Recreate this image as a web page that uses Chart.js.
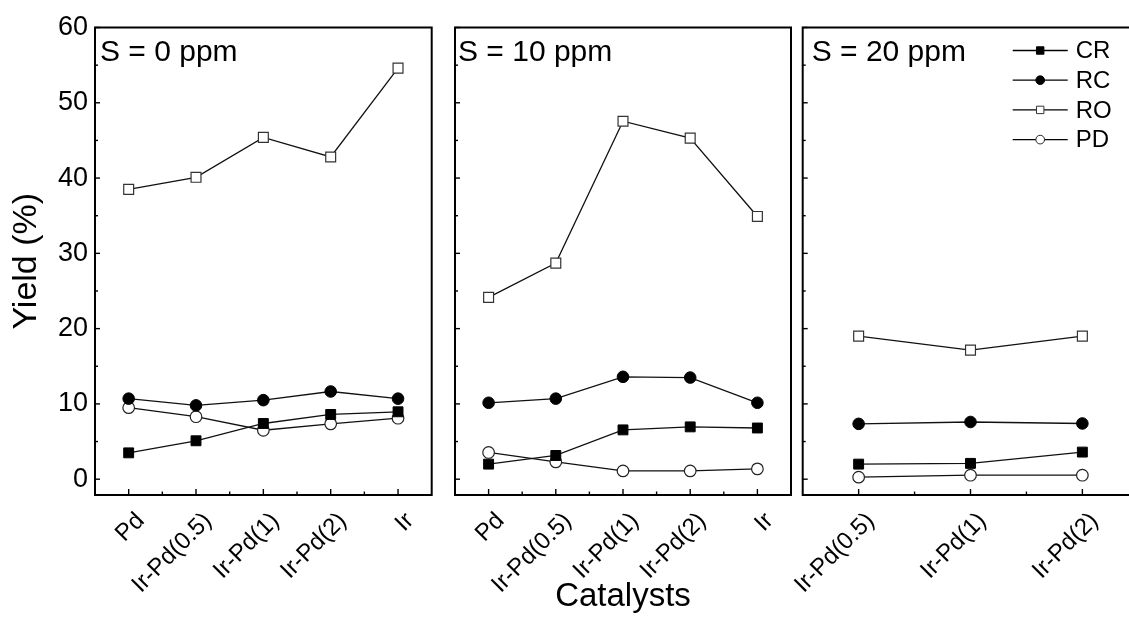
<!DOCTYPE html>
<html>
<head>
<meta charset="utf-8">
<script src="https://cdn.jsdelivr.net/npm/chart.js@4.4.1/dist/chart.umd.min.js"></script>
<style>
  html, body { margin: 0; padding: 0; background: #fff; overflow: hidden; width: 1129px; height: 629px; }
  canvas { position: absolute; top: 0; }
</style>
</head>
<body>
<canvas id="p0" width="445" height="629" style="left:0px"></canvas>
<canvas id="p10" width="355" height="629" style="left:445px"></canvas>
<canvas id="p20" width="365" height="629" style="left:790px"></canvas>
<script>
// Yield (%) of products over catalysts, at three S levels
const seriesNames = ['CR', 'RC', 'RO', 'PD'];
const catalysts = ['Pd', 'Ir-Pd(0.5)', 'Ir-Pd(1)', 'Ir-Pd(2)', 'Ir'];
const catalysts20 = ['Ir-Pd(0.5)', 'Ir-Pd(1)', 'Ir-Pd(2)'];
const yTicks = [0, 10, 20, 30, 40, 50, 60];

// S = 0 ppm
const cr0 = [3.5, 5.1, 7.4, 8.6, 8.95];
const rc0 = [10.7, 9.8, 10.5, 11.65, 10.7];
const ro0 = [38.5, 40.1, 45.4, 42.8, 54.6];
const pd0 = [9.5, 8.3, 6.5, 7.35, 8.1];

// S = 10 ppm
const cr10 = [2.0, 3.15, 6.55, 6.95, 6.8];
const rc10 = [10.15, 10.7, 13.6, 13.5, 10.15];
const ro10 = [24.15, 28.7, 47.55, 45.3, 34.9];
const pd10 = [3.55, 2.3, 1.1, 1.1, 1.37];

// S = 20 ppm
const cr20 = [2.0, 2.1, 3.6];
const rc20 = [7.35, 7.6, 7.4];
const ro20 = [19.0, 17.15, 19.0];
const pd20 = [0.27, 0.53, 0.53];

const FONT = '"Liberation Sans", Arial, sans-serif';

const markers = {
  CR: { style: 'rect', r: 7, fill: '#000', stroke: '#000', bw: 1 },
  RC: { style: 'circle', r: 5.8, fill: '#000', stroke: '#000', bw: 1 },
  RO: { style: 'rect', r: 7, fill: '#fff', stroke: '#333', bw: 1.2 },
  PD: { style: 'circle', r: 5.8, fill: '#fff', stroke: '#222', bw: 1.2 }
};

function ds(label, data) {
  const m = markers[label];
  return {
    label: label,
    data: data,
    borderColor: '#111',
    borderWidth: 1.3,
    tension: 0,
    fill: false,
    pointStyle: m.style,
    pointRadius: m.r,
    pointBackgroundColor: m.fill,
    pointBorderColor: m.stroke,
    pointBorderWidth: m.bw
  };
}

// frame, inward ticks, panel label and legend
const deco = {
  id: 'deco',
  afterDatasetsDraw(chart, args, opts) {
    const ctx = chart.ctx;
    const a = chart.chartArea;
    const x = chart.scales.x;
    const y = chart.scales.y;
    ctx.save();
    ctx.strokeStyle = '#000';
    ctx.lineWidth = 1.4;
    const seg = (x1, y1, x2, y2) => { ctx.beginPath(); ctx.moveTo(x1, y1); ctx.lineTo(x2, y2); ctx.stroke(); };

    const n = x.ticks.length;
    for (let i = 0; i < n; i++) {
      const px = x.getPixelForTick(i);
      seg(px, a.bottom, px, a.bottom - 6);
      if (i < n - 1) {
        const mx = (px + x.getPixelForTick(i + 1)) / 2;
        seg(mx, a.bottom, mx, a.bottom - 3.5);
      }
    }
    for (let v = 0; v <= 60; v += 5) {
      const py = y.getPixelForValue(v);
      seg(a.left, py, a.left + (v % 10 === 0 ? 5 : 3), py);
    }

    ctx.lineWidth = 2;
    ctx.strokeRect(a.left, a.top, a.right - a.left, a.bottom - a.top);

    ctx.fillStyle = '#000';
    ctx.font = '30px ' + FONT;
    ctx.textAlign = 'left';
    ctx.textBaseline = 'alphabetic';
    ctx.fillText(opts.label, a.left + opts.dx, 61);

    if (opts.legend) {
      const lx = a.left + 210;
      chart.data.datasets.forEach((d, i) => {
        const ly = 50.5 + i * 29.7;
        ctx.strokeStyle = '#000';
        ctx.lineWidth = 1.3;
        seg(lx, ly, lx + 55, ly);
        const m = markers[d.label];
        ctx.fillStyle = m.fill;
        ctx.strokeStyle = m.stroke;
        ctx.lineWidth = 1;
        Chart.helpers.drawPoint(ctx, { pointStyle: m.style, radius: m.r * 0.75, rotation: 0, borderWidth: 1 }, lx + 27.5, ly);
        ctx.fillStyle = '#000';
        ctx.font = '24px ' + FONT;
        ctx.textBaseline = 'middle';
        ctx.fillText(d.label, lx + 63, ly + 1);
      });
    }
    ctx.restore();
  }
};

function makeChart(id, labels, series, cfg) {
  const showY = cfg.showY;
  return new Chart(document.getElementById(id), {
    type: 'line',
    data: {
      labels: labels,
      datasets: series.map((s, i) => ds(seriesNames[i], s))
    },
    options: {
      responsive: false,
      animation: false,
      devicePixelRatio: 1,
      layout: { padding: cfg.padding },
      plugins: {
        legend: { display: false },
        tooltip: { enabled: false },
        deco: { label: cfg.label, dx: cfg.dx, legend: cfg.legend }
      },
      scales: {
        x: {
          type: 'category',
          offset: true,
          grid: { display: false, drawTicks: false },
          border: { display: false },
          afterFit: (s) => { s.height = 134; s.paddingLeft = 0; s.paddingRight = 0; },
          ticks: {
            autoSkip: false,
            maxRotation: 45,
            minRotation: 45,
            padding: 12,
            labelOffset: 12,
            color: '#000',
            font: { family: FONT, size: 24 }
          },
          title: {
            display: !!cfg.xTitle,
            text: cfg.xTitle || '',
            color: '#000',
            font: { family: FONT, size: 33 },
            padding: { top: 0, bottom: 12 }
          }
        },
        y: {
          display: showY,
          min: -2.1,
          max: 60,
          afterFit: (s) => { s.width = showY ? 95 : 0; s.paddingTop = 0; s.paddingBottom = 0; },
          afterBuildTicks: (s) => { s.ticks = yTicks.map(v => ({ value: v })); },
          grid: { display: false, drawTicks: false },
          border: { display: false },
          ticks: {
            padding: 7,
            color: '#000',
            font: { family: FONT, size: 27 }
          },
          title: {
            display: showY,
            text: 'Yield (%)',
            color: '#000',
            font: { family: FONT, size: 34 },
            padding: { top: 6, bottom: 0 }
          }
        }
      }
    },
    plugins: [deco]
  });
}

makeChart('p0', catalysts, [cr0, rc0, ro0, pd0], {
  showY: true, label: 'S = 0 ppm', dx: 5, legend: false,
  padding: { left: 0, right: 13.3, top: 27.5, bottom: 0 }
});
makeChart('p10', catalysts, [cr10, rc10, ro10, pd10], {
  showY: false, label: 'S = 10 ppm', dx: 3, legend: false, xTitle: 'Catalysts',
  padding: { left: 10, right: 9, top: 27.5, bottom: 0 }
});
makeChart('p20', catalysts20, [cr20, rc20, ro20, pd20], {
  showY: false, label: 'S = 20 ppm', dx: 9, legend: true,
  padding: { left: 12.7, right: 16.7, top: 27.5, bottom: 0 }
});
</script>
</body>
</html>
